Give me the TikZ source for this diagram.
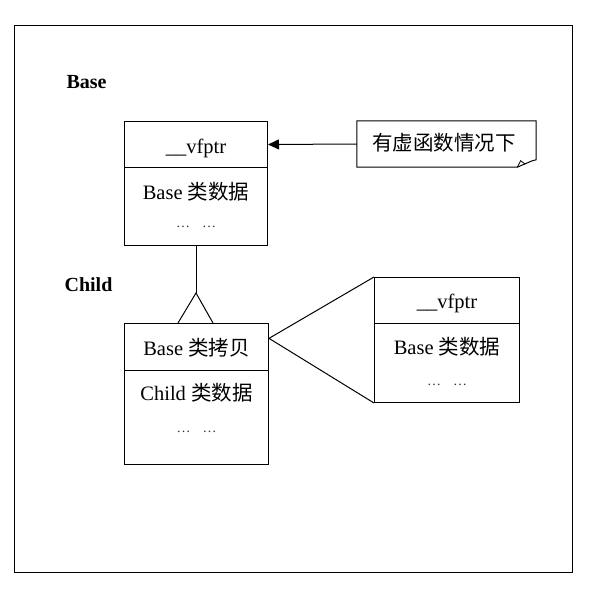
\documentclass[tikz,border=0pt]{standalone}
\usepackage{fontspec}
\setmainfont{Liberation Serif}
\newfontfamily\cjk{Noto Sans CJK SC}
\usetikzlibrary{arrows.meta,calc}
\begin{document}
\begin{tikzpicture}[x=1pt,y=-1pt,
  partbox/.style={draw,line width=1pt,inner sep=0pt,anchor=north west,minimum width=#1},
  txt/.style={font=\fontsize{20.5}{24}\selectfont,inner sep=0pt},
  dotstxt/.style={font=\fontsize{14}{16}\selectfont,inner sep=0pt,text=black!80},
  lbl/.style={font=\fontsize{20}{24}\selectfont\bfseries,inner sep=0pt},
  conn/.style={line width=1pt}]
\useasboundingbox (0,0) rectangle (599,597);
% outer frame
\node[draw,line width=1.3pt,inner sep=0pt,anchor=north west,minimum width=558.5pt,minimum height=547pt] (frame) at (13.5,25) {};

% labels
\node[lbl] (baselbl) at (86.5,82) {Base};
\node[lbl] (childlbl) at (88.5,285) {Child};

% Base box
\node[partbox=143pt,minimum height=46pt] (bv) at (124,121) {};
\node[partbox=143pt,minimum height=78pt] (bd) at (124,167) {};
\node[txt] (bvt) at (bv.center |- 0,148) {\_\_vfptr};
\node[txt] (bdt) at (bv.center |- 0,192) {Base {\cjk 类数据}};
\node[dotstxt] (bdd) at (bv.center |- 0,227) {…\hspace{12pt}…};

% callout
\node[inner sep=0pt,minimum width=179pt,minimum height=46pt] (co) at (446.5,144) {};
\node[font=\fontsize{20.5}{24}\selectfont\cjk,inner sep=0pt] (cot) at (444,143) {有虚函数情况下};
\draw[conn] (co.north west) -- (co.north east) -- ($(co.north east)+(0,39)$) -- ($(co.north east)+(-4,40)$)
  -- ($(co.south east)+(-19,0)$) -- (co.south west) -- cycle;
\draw[line width=0.8pt] ($(co.south east)+(-19,0)$) -- ($(co.south east)+(-15.5,-6.5)$) -- ($(co.south east)+(-11,-3)$);
\draw[conn,-{Triangle[length=11pt,width=10pt]}] (co.west) -- (bv.east);

% Child box
\node[partbox=144pt,minimum height=47pt] (ct) at (124,323) {};
\node[partbox=144pt,minimum height=94pt] (cd) at (124,370) {};
\node[txt] (ctt) at (ct.center |- 0,348) {Base {\cjk 类拷贝}};
\node[txt] (cdt) at (ct.center |- 0,393) {Child {\cjk 类数据}};
\node[dotstxt] (cdd) at (ct.center |- 0,432) {…\hspace{12pt}…};

% Right box
\node[partbox=145pt,minimum height=46pt] (rt) at (374,277) {};
\node[partbox=145pt,minimum height=79pt] (rb) at (374,323) {};
\node[txt] (rtt) at (rt.center |- 0,303) {\_\_vfptr};
\node[txt] (rbt) at (rt.center |- 0,347) {Base {\cjk 类数据}};
\node[dotstxt] (rbd) at (rt.center |- 0,385) {…\hspace{12pt}…};

% inheritance connector
\coordinate (apex) at (196,293);
\coordinate (tl) at (178,323);
\coordinate (tr) at (213,323);
\draw[conn] (bd.south -| apex) -- (apex);
\draw[conn] (tl) -- (apex) -- (tr);

% expansion triangle
\coordinate (cap) at ($(ct.north east)!0.32!(ct.south east)$);
\draw[conn] (rt.north west) -- (cap) -- (rb.south west);
\end{tikzpicture}
\end{document}
